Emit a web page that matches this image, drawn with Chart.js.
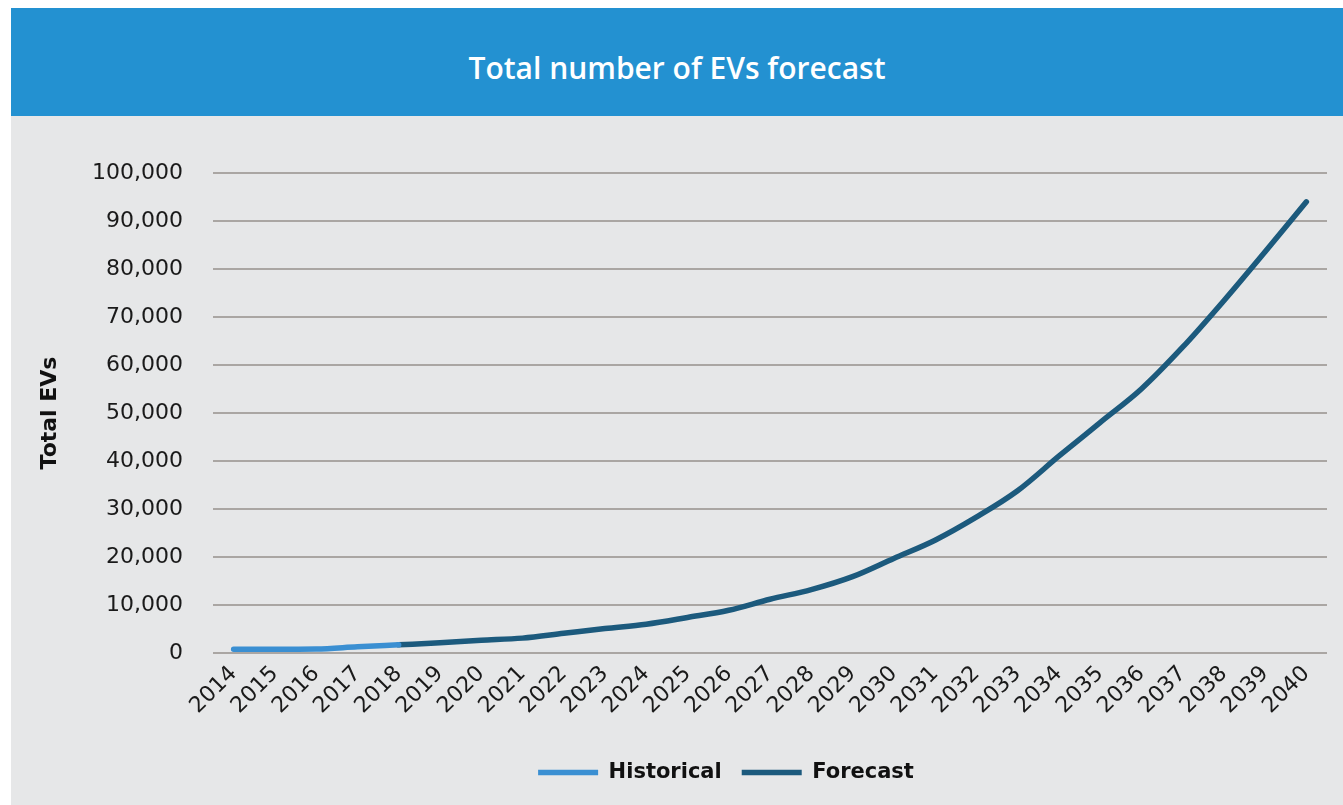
<!DOCTYPE html>
<html>
<head>
<meta charset="utf-8">
<script src="https://cdn.jsdelivr.net/npm/chart.js@4.4.1/dist/chart.umd.min.js"></script>
<style>
  html, body { margin: 0; padding: 0; background: #fff; }
  #header {
    position: absolute; left: 11px; top: 8px; width: 1332px; height: 108px;
    box-sizing: border-box; padding-top: 10px;
    background: #2391d1; color: #fff;
    font: 600 30px "Open Sans", sans-serif;
    display: flex; align-items: center; justify-content: center;
  }
  #panel {
    position: absolute; left: 11px; top: 116px; width: 1332px; height: 689px;
    background: #e6e7e8; overflow: hidden;
  }
  #wrap { position: absolute; left: 0; top: 0; width: 1332px; height: 700px; }
</style>
</head>
<body>
<div id="header">Total number of EVs forecast</div>
<div id="panel"><div id="wrap"><canvas id="evChart"></canvas></div></div>
<script>
// tick labels along the x axis
const years = ['2014', '2015', '2016', '2017', '2018', '2019', '2020', '2021', '2022',
  '2023', '2024', '2025', '2026', '2027', '2028', '2029', '2030', '2031', '2032',
  '2033', '2034', '2035', '2036', '2037', '2038', '2039', '2040'];

// total EVs
const historical = [800, 800, 850, 1300, 1700];
const forecast = [1700, 2150, 2650, 3100, 4100, 5100, 6000, 7400, 8900, 11200, 13200,
  15900, 19700, 23500, 28300, 33800, 41000, 48000, 55000, 63700, 73400, 83600, 94000];

// forecast starts where the historical series stops
const forecastStart = historical.length - 1;
const histData = years.map((y, i) => i < historical.length ? historical[i] : null);
const fcData = years.map((y, i) => i >= forecastStart ? forecast[i - forecastStart] : null);

Chart.defaults.font.family = '"DejaVu Sans", sans-serif';
Chart.defaults.color = '#1a1a1a';

// legend in the original sits a bit right of the canvas centre
const legendShift = {
  id: 'legendShift',
  afterLayout(chart) {
    chart.legend.left = 114;
  }
};

const ctx = document.getElementById('evChart').getContext('2d');
const chart = new Chart(ctx, {
  type: 'line',
  data: {
    labels: years,
    datasets: [{
      label: 'Historical',
      data: histData,
      borderColor: '#3a8fd2',
      backgroundColor: '#3a8fd2',
      borderWidth: 5.5,
      borderCapStyle: 'round',
      pointRadius: 0,
      cubicInterpolationMode: 'monotone'
    }, {
      label: 'Forecast',
      data: fcData,
      borderColor: '#1c5a7d',
      backgroundColor: '#1c5a7d',
      borderWidth: 5.5,
      borderCapStyle: 'round',
      pointRadius: 0,
      cubicInterpolationMode: 'monotone'
    }]
  },
  options: {
    responsive: true,
    maintainAspectRatio: false,
    animation: false,
    layout: {
      padding: { left: 0, right: 16, top: 57, bottom: 23 }
    },
    plugins: {
      title: { display: false },
      tooltip: { enabled: false },
      legend: {
        position: 'bottom',
        labels: {
          usePointStyle: true,
          pointStyle: 'line',
          pointStyleWidth: 60,
          padding: 20,
          color: '#111',
          font: { size: 21, weight: 'bold' }
        }
      }
    },
    scales: {
      x: {
        offset: true,
        grid: { display: false, drawTicks: false },
        border: { display: false },
        ticks: {
          autoSkip: false,
          maxRotation: 45,
          minRotation: 45,
          padding: 8,
          font: { size: 22 }
        },
        afterFit(scale) { scale.height = 89; }
      },
      y: {
        min: 0,
        max: 100000,
        grid: { color: '#aaa6a3', lineWidth: 2, drawTicks: false },
        border: { display: false },
        ticks: {
          stepSize: 10000,
          padding: 30,
          font: { size: 22 },
          callback: v => v.toLocaleString('en-US')
        },
        title: {
          display: true,
          text: 'Total EVs',
          color: '#111',
          font: { size: 22, weight: 'bold' },
          padding: { top: 26, bottom: 0 }
        },
        afterFit(scale) { scale.width = 202; }
      }
    }
  },
  plugins: [legendShift]
});
</script>
</body>
</html>
